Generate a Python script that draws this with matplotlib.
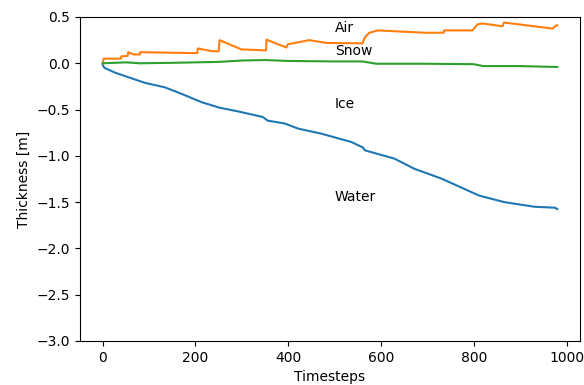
import matplotlib
matplotlib.use("Agg")
import matplotlib.pyplot as plt

# ice/water interface (blue)
water_t = [0, 4, 26, 55, 90, 134, 170, 213, 252, 292, 345, 356, 392, 421, 471,
           536, 561, 565, 629, 672, 730, 812, 866, 931, 975, 980]
water_z = [-0.02, -0.05, -0.10, -0.15, -0.21, -0.26, -0.33, -0.42, -0.48, -0.52,
           -0.58, -0.62, -0.65, -0.705, -0.76, -0.85, -0.91, -0.94, -1.03, -1.14,
           -1.245, -1.43, -1.50, -1.55, -1.56, -1.575]

# snow/air interface (orange)
air_t = [0, 2, 39, 40, 54, 55, 67, 80, 81, 198, 204, 205, 237, 250, 252, 299,
         349, 352, 353, 396, 399, 435, 445, 482, 560, 565, 575, 593, 694, 735,
         736, 797, 808, 819, 862, 865, 970, 978, 980]
air_z = [0.0, 0.05, 0.05, 0.075, 0.08, 0.12, 0.095, 0.095, 0.12, 0.11, 0.11,
         0.16, 0.13, 0.13, 0.25, 0.15, 0.14, 0.14, 0.255, 0.17, 0.205, 0.24,
         0.25, 0.22, 0.215, 0.28, 0.33, 0.355, 0.33, 0.33, 0.355, 0.355, 0.42,
         0.43, 0.40, 0.44, 0.375, 0.41, 0.41]

# ice/snow interface (green)
snow_t = [0, 50, 80, 150, 200, 250, 300, 350, 400, 500, 560, 590, 700, 800,
          820, 900, 980]
snow_z = [0.0, 0.01, 0.0, 0.005, 0.01, 0.015, 0.03, 0.035, 0.025, 0.02, 0.02,
          -0.005, -0.005, -0.01, -0.03, -0.03, -0.04]

labels = ["Air", "Snow", "Ice", "Water"]
label_y = [0.34, 0.09, -0.48, -1.49]

fig = plt.figure(figsize=(5.84, 3.85), dpi=100)
ax = fig.add_axes([80/584, 44/385, 500/584, 324/385])

ax.plot(water_t, water_z, lw=1.5)
ax.plot(air_t, air_z, lw=1.5)
ax.plot(snow_t, snow_z, lw=1.5)

for lab, y in zip(labels, label_y):
    ax.text(500, y, lab)

ax.set_ylim(-3.0, 0.5)
ax.set_xlabel("Timesteps")
ax.set_ylabel("Thickness [m]")

fig.savefig("out.png", dpi=100)
